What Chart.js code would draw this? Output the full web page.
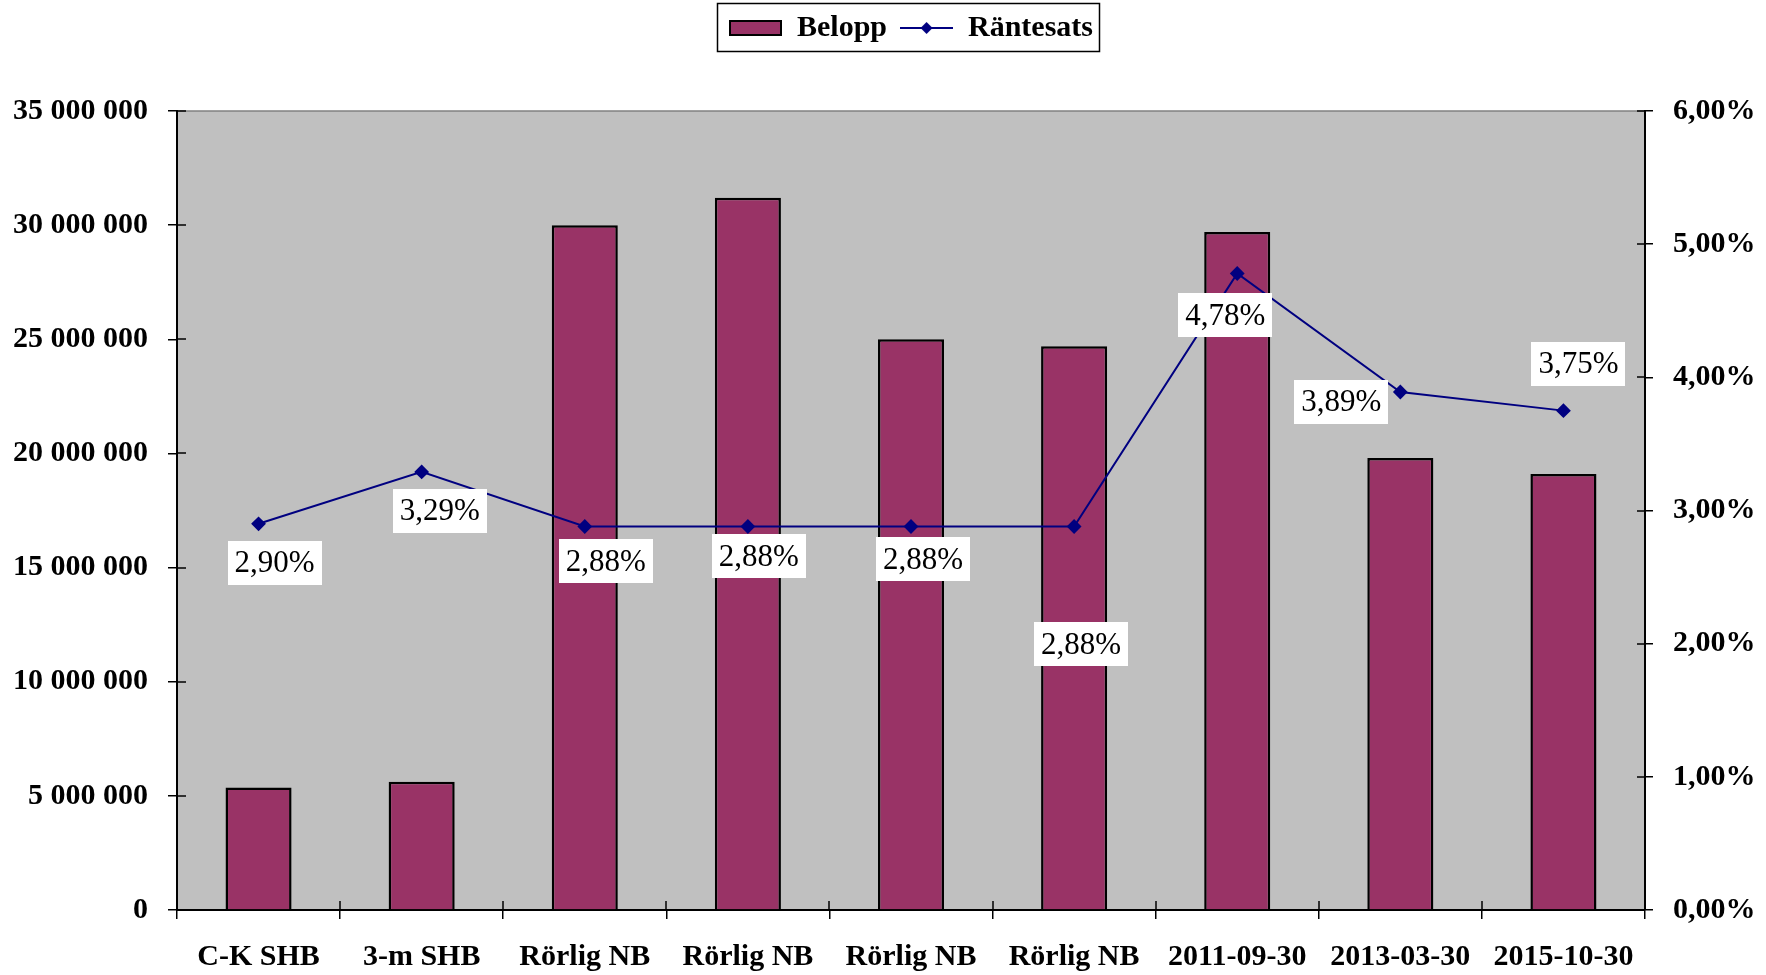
<!DOCTYPE html>
<html>
<head>
<meta charset="utf-8">
<script src="https://cdn.jsdelivr.net/npm/chart.js@4"></script>
<style>
  body { margin: 0; background: #fff; }
  #wrap { width: 1766px; height: 975px; }
</style>
</head>
<body>
<div id="wrap"><canvas id="myChart"></canvas></div>
<script>
const categories = ['C-K SHB', '3-m SHB', 'Rörlig NB', 'Rörlig NB', 'Rörlig NB', 'Rörlig NB', '2011-09-30', '2013-03-30', '2015-10-30'];
const belopp = [5370000, 5620000, 30000000, 31200000, 25000000, 24700000, 29700000, 19800000, 19100000];
const rantesats = [2.90, 3.29, 2.88, 2.88, 2.88, 2.88, 4.78, 3.89, 3.75];
const leftTicks = [0, 5000000, 10000000, 15000000, 20000000, 25000000, 30000000, 35000000];
const rightTicks = [0, 1, 2, 3, 4, 5, 6];

// forskjutning av etiketterna (px) relativt punkten
const labelOffsets = [[16, 39], [18, 39], [21, 35], [11, 30], [12, 33], [7, 118], [-12, 42], [-59, 10], [15, -47]];

const PLUM = '#993366';
const NAVY = '#000080';
const FONT = 'Liberation Serif';

function fmtNum(v) {
    return String(v).replace(/\B(?=(\d{3})+(?!\d))/g, ' ');
}
function fmtPct(v) {
    return v.toFixed(2).replace('.', ',') + '%';
}

// legend-symboler
function makeSwatch(kind) {
    const c = document.createElement('canvas');
    c.width = 53; c.height = 16;
    const g = c.getContext('2d');
    if (kind === 'bar') {
        g.fillStyle = PLUM;
        g.fillRect(1, 1, 51, 14);
        g.strokeStyle = '#000';
        g.lineWidth = 2;
        g.strokeRect(1, 1, 51, 14);
    } else {
        g.strokeStyle = NAVY;
        g.lineWidth = 2;
        g.beginPath(); g.moveTo(0, 8); g.lineTo(53, 8); g.stroke();
        g.fillStyle = NAVY;
        g.beginPath(); g.moveTo(26.5, 2); g.lineTo(32.5, 8); g.lineTo(26.5, 14); g.lineTo(20.5, 8); g.closePath(); g.fill();
    }
    return c;
}
const barSwatch = makeSwatch('bar');
const lineSwatch = makeSwatch('line');

// plottyta + korsande skalstreck + legendram
const decorPlugin = {
    id: 'decor',
    afterInit(chart) {
        const lg = chart.legend;
        const origFit = lg.fit;
        lg.fit = function () {
            origFit.call(this);
            this.height = 111;
        };
    },
    beforeDraw(chart) {
        const a = chart.chartArea;
        const c = chart.ctx;
        c.save();
        c.fillStyle = '#C0C0C0';
        c.fillRect(a.left, a.top, a.right - a.left, a.bottom - a.top);
        c.strokeStyle = '#808080';
        c.lineWidth = 1.5;
        c.beginPath();
        c.moveTo(a.left, a.top); c.lineTo(a.right, a.top);
        c.stroke();
        c.restore();
    },
    afterDraw(chart) {
        const c = chart.ctx;
        const x = chart.scales.x, yl = chart.scales.y, yr = chart.scales.y1;
        const a = chart.chartArea;
        c.save();
        c.strokeStyle = '#000';
        c.lineWidth = 1.5;
        c.beginPath();
        for (let i = 0; i <= categories.length; i++) {
            const px = Math.round(x.getPixelForValue(i - 0.5));
            c.moveTo(px, a.bottom); c.lineTo(px, a.bottom - 9);
        }
        leftTicks.forEach(v => {
            const py = Math.round(yl.getPixelForValue(v));
            c.moveTo(a.left, py); c.lineTo(a.left + 9, py);
        });
        rightTicks.forEach(v => {
            const py = Math.round(yr.getPixelForValue(v));
            c.moveTo(a.right, py); c.lineTo(a.right - 8, py);
        });
        c.stroke();

        // ram runt legenden
        const boxes = chart.legend.legendHitBoxes;
        if (boxes && boxes.length) {
            const l = Math.min(...boxes.map(b => b.left)) - 12;
            const r = Math.max(...boxes.map(b => b.left + b.width)) + 6;
            const t = boxes[0].top - 10;
            const btm = boxes[0].top + boxes[0].height + 8;
            c.lineWidth = 1.5;
            c.strokeRect(Math.round(l) + 0.5, Math.round(t) + 0.5, Math.round(r - l), Math.round(btm - t));
        }
        c.restore();
    }
};

// dataetiketter i vita rutor
const labelPlugin = {
    id: 'pctLabels',
    afterDatasetsDraw(chart) {
        const meta = chart.getDatasetMeta(0);
        const c = chart.ctx;
        c.save();
        c.font = '31px "' + FONT + '"';
        c.textAlign = 'center';
        c.textBaseline = 'middle';
        meta.data.forEach((pt, i) => {
            const txt = fmtPct(rantesats[i]);
            const cx = pt.x + labelOffsets[i][0];
            const cy = pt.y + labelOffsets[i][1];
            const w = c.measureText(txt).width + 14;
            const h = 44;
            c.fillStyle = '#fff';
            c.fillRect(Math.round(cx - w / 2), Math.round(cy - h / 2), Math.round(w), h);
            c.fillStyle = '#000';
            c.fillText(txt, cx, cy + 1);
        });
        c.restore();
    }
};

const ctx = document.getElementById('myChart').getContext('2d');
const chart = new Chart(ctx, {
    data: {
        labels: categories,
        datasets: [
            {
                type: 'line',
                label: 'Räntesats',
                data: rantesats,
                yAxisID: 'y1',
                borderColor: NAVY,
                backgroundColor: NAVY,
                borderWidth: 2,
                pointStyle: 'rectRot',
                pointRadius: 6,
                pointHoverRadius: 6,
                pointBackgroundColor: NAVY,
                pointBorderColor: NAVY,
                tension: 0,
                order: 0
            },
            {
                type: 'bar',
                label: 'Belopp',
                data: belopp,
                yAxisID: 'y',
                backgroundColor: PLUM,
                borderColor: '#000',
                borderWidth: 2.5,
                categoryPercentage: 1,
                barPercentage: 0.405,
                order: 1
            }
        ]
    },
    options: {
        responsive: true,
        maintainAspectRatio: false,
        animation: false,
        layout: { padding: 0 },
        plugins: {
            tooltip: { enabled: false },
            legend: {
                position: 'top',
                fullSize: false,
                labels: {
                    usePointStyle: true,
                    pointStyleWidth: 53,
                    boxHeight: 16,
                    padding: 13,
                    color: '#000',
                    font: { family: FONT, size: 30, weight: 'bold' },
                    generateLabels: () => [
                        { text: 'Belopp', pointStyle: barSwatch, datasetIndex: 1, lineWidth: 0 },
                        { text: 'Räntesats', pointStyle: lineSwatch, datasetIndex: 0, lineWidth: 0 }
                    ]
                }
            }
        },
        scales: {
            x: {
                offset: true,
                afterFit: s => { s.height = 65; },
                grid: { offset: true, drawOnChartArea: false, drawTicks: true, tickLength: 9, color: '#000', lineWidth: 1.5 },
                border: { display: true, color: '#000', width: 2 },
                ticks: { color: '#000', padding: 20, maxRotation: 0, autoSkip: false, font: { family: FONT, size: 30, weight: 'bold' } }
            },
            y: {
                position: 'left',
                min: 0,
                max: 35000000,
                afterFit: s => { s.width = 177; },
                afterBuildTicks: s => { s.ticks = leftTicks.map(v => ({ value: v })); },
                grid: { drawOnChartArea: false, drawTicks: true, tickLength: 9, color: '#000', lineWidth: 1.5 },
                border: { display: true, color: '#000', width: 2 },
                ticks: { color: '#000', padding: 20, callback: v => fmtNum(v), font: { family: FONT, size: 30, weight: 'bold' } }
            },
            y1: {
                position: 'right',
                min: 0,
                max: 6,
                afterFit: s => { s.width = 121; },
                afterBuildTicks: s => { s.ticks = rightTicks.map(v => ({ value: v })); },
                grid: { drawOnChartArea: false, drawTicks: true, tickLength: 8, color: '#000', lineWidth: 1.5 },
                border: { display: true, color: '#000', width: 2 },
                ticks: { color: '#000', padding: 20, callback: v => fmtPct(v), font: { family: FONT, size: 30, weight: 'bold' } }
            }
        }
    },
    plugins: [decorPlugin, labelPlugin]
});
</script>
</body>
</html>
